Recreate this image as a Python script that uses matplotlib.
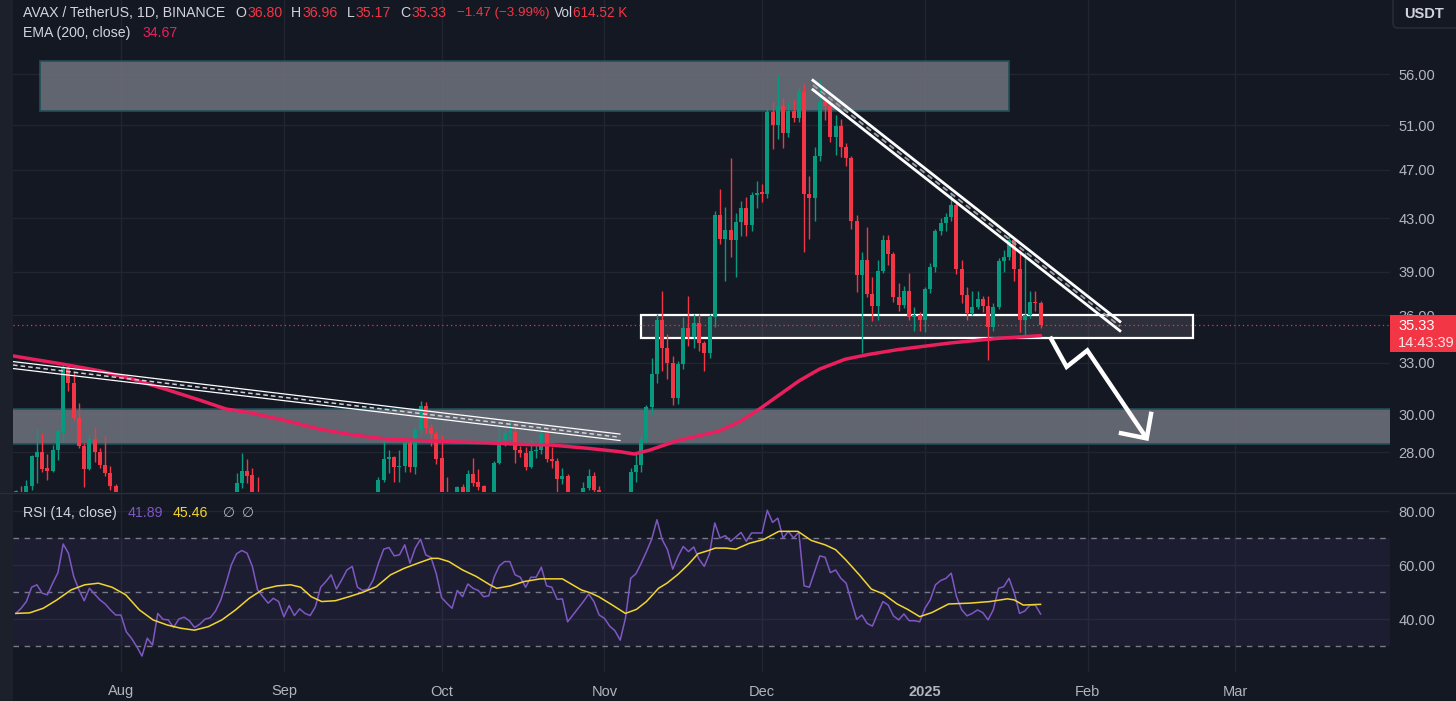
import numpy as np
import pandas as pd
import matplotlib
matplotlib.use('Agg')
import matplotlib.pyplot as plt
from matplotlib.patches import Rectangle, FancyBboxPatch
from matplotlib.lines import Line2D
from matplotlib.ticker import NullLocator
from matplotlib.colors import to_rgba
from matplotlib.transforms import Bbox

plt.rcParams['font.family'] = ['Liberation Sans', 'DejaVu Sans']

############################################################################################
# DATA  (daily candles from 2024-07-12)

start = pd.Timestamp('2024-07-12')

opens = [24.6, 25.9, 25.6, 26.3, 27.75, 28.0, 27.2, 27.05, 28.1, 29.0,
         32.65, 31.8, 29.8, 28.31, 27.15, 28.66, 28.0, 27.34, 26.95, 26.29,
         25.7, 25.5, 23.9, 23.2, 21.8, 19.7, 21.0, 20.3, 22.9, 22.5,
         22.4, 21.6, 22.3, 22.5, 22.2, 21.5, 21.8, 22.3, 22.4, 22.9,
         23.7, 24.8, 25.7, 26.45, 27.05, 26.85, 25.6, 24.2, 23.6, 23.2,
         23.6, 23.4, 22.1, 22.9, 22.2, 22.6, 22.3, 22.1, 22.6, 23.7,
         24.1, 24.5, 23.8, 24.4, 25.1, 25.3, 24.3, 24.1, 24.4, 25.9,
         26.62, 27.65, 27.73, 27.22, 27.3, 28.45, 27.22, 29.14, 30.47, 29.24,
         28.95, 27.7, 25.4, 24.8, 24.5, 26.24, 25.9, 26.87, 26.5, 26.3,
         25.5, 25.6, 27.43, 28.62, 29.02, 29.05, 28.1, 27.96, 27.26, 28.05,
         28.1, 28.93, 27.65, 27.56, 26.64, 26.79, 25.3, 25.6, 25.9, 26.19,
         26.8, 26.11, 25.2, 24.9, 24.2, 23.7, 23.0, 24.6, 26.97, 27.34,
         28.7, 30.41, 32.3, 35.7, 33.9, 33.0, 30.9, 32.9, 35.14, 34.6,
         35.47, 34.18, 33.56, 35.9, 43.25, 41.4, 42.1, 41.3, 42.7, 43.8,
         42.5, 44.9, 45.05, 45.0, 52.3, 51.0, 52.8, 50.25, 52.4, 51.65,
         54.2, 45.0, 44.6, 48.2, 53.2, 52.8, 49.9, 50.9, 49.0, 48.0,
         42.8, 38.75, 39.8, 37.4, 36.6, 39.05, 41.3, 40.3, 37.2, 36.7,
         37.64, 35.9, 36.0, 35.67, 37.74, 39.3, 42.0, 42.6, 43.1, 44.1,
         39.2, 37.37, 36.11, 36.56, 37.1, 36.6, 35.24, 36.56, 39.77, 40.06,
         41.3, 39.2, 35.67, 36.0, 36.86, 36.80]

highs = [26.1, 26.3, 26.6, 27.85, 29.2, 29.0, 27.9, 28.36, 29.2, 32.98,
         32.9, 32.5, 30.62, 28.45, 28.89, 29.33, 28.2, 28.83, 27.29, 26.4,
         25.95, 25.8, 24.3, 23.5, 22.0, 21.5, 21.8, 23.1, 23.1, 22.8,
         23.0, 22.6, 22.7, 22.9, 22.4, 22.1, 22.4, 22.8, 23.1, 24.0,
         25.0, 25.9, 26.95, 27.93, 27.65, 27.2, 26.76, 24.8, 24.4, 23.9,
         23.8, 23.5, 23.1, 23.2, 22.9, 22.8, 22.7, 22.8, 23.9, 24.4,
         24.7, 24.6, 24.6, 25.3, 25.5, 25.4, 24.6, 24.9, 25.95, 26.75,
         28.76, 28.1, 27.8, 28.13, 28.55, 28.6, 29.3, 30.77, 30.7, 29.5,
         29.1, 28.89, 26.77, 25.8, 26.3, 26.4, 27.09, 27.68, 27.12, 26.35,
         25.95, 27.54, 29.33, 29.2, 29.6, 29.6, 28.3, 28.27, 28.62, 28.45,
         29.33, 29.33, 28.27, 27.7, 27.17, 26.9, 25.8, 25.95, 26.5, 27.14,
         27.0, 26.3, 25.6, 25.2, 24.4, 23.9, 24.9, 27.2, 27.9, 28.9,
         30.5, 33.3, 36.1, 37.6, 34.8, 33.4, 33.1, 35.9, 37.26, 36.1,
         36.1, 34.35, 36.1, 43.6, 45.4, 43.9, 48.0, 43.4, 44.4, 44.7,
         45.1, 46.06, 45.8, 52.6, 53.2, 55.9, 53.6, 53.2, 53.4, 54.6,
         55.0, 46.5, 49.0, 55.4, 53.8, 53.3, 52.0, 51.6, 49.4, 48.2,
         43.3, 40.4, 42.3, 38.6, 39.8, 41.7, 41.7, 40.4, 38.2, 38.0,
         38.9, 36.56, 36.2, 37.9, 39.6, 42.2, 43.0, 43.4, 45.0, 44.4,
         39.8, 37.9, 37.64, 37.6, 37.3, 37.26, 36.8, 40.0, 40.6, 41.7,
         41.5, 40.6, 40.4, 37.64, 37.64, 36.96]

lows = [24.3, 25.3, 25.4, 26.1, 26.45, 27.0, 26.6, 27.0, 27.6, 28.5,
        31.34, 29.7, 28.2, 26.26, 27.1, 27.5, 27.2, 26.8, 26.1, 25.3,
        24.9, 23.6, 22.9, 21.6, 17.5, 19.5, 19.9, 20.1, 22.0, 22.2,
        21.5, 21.2, 21.9, 22.0, 21.2, 21.3, 21.7, 22.1, 22.0, 22.7,
        23.5, 24.6, 25.5, 26.2, 26.45, 25.4, 23.8, 23.0, 23.0, 22.8,
        23.2, 21.9, 21.9, 22.0, 21.5, 22.0, 21.0, 21.9, 22.4, 23.4,
        23.7, 23.4, 23.6, 24.1, 24.8, 24.1, 23.6, 23.9, 24.0, 25.7,
        26.5, 26.95, 26.5, 26.5, 27.0, 27.0, 26.9, 29.0, 29.0, 28.3,
        27.4, 25.0, 24.3, 24.0, 24.4, 25.7, 25.8, 26.3, 26.1, 25.2,
        24.6, 25.4, 27.39, 28.3, 28.7, 27.46, 27.75, 27.1, 27.2, 27.7,
        27.9, 27.5, 27.17, 26.03, 26.4, 24.9, 25.0, 25.3, 25.5, 26.1,
        25.9, 24.9, 24.2, 23.9, 22.9, 22.6, 22.9, 24.4, 26.5, 27.0,
        28.5, 30.0, 31.8, 32.5, 32.0, 30.5, 30.6, 32.6, 34.0, 33.9,
        33.7, 32.5, 33.3, 35.2, 41.0, 38.34, 40.06, 38.6, 41.6, 41.6,
        42.0, 43.8, 44.3, 44.6, 48.8, 49.7, 48.9, 49.9, 51.3, 51.3,
        40.4, 41.4, 42.8, 47.8, 51.5, 49.5, 48.3, 48.15, 47.3, 42.2,
        37.55, 33.6, 37.2, 35.6, 35.7, 38.9, 39.5, 36.9, 36.3, 36.5,
        35.67, 34.98, 34.98, 34.9, 37.5, 39.0, 41.7, 42.0, 42.8, 38.8,
        36.8, 35.7, 36.0, 36.4, 36.2, 33.15, 34.98, 36.4, 39.0, 39.8,
        38.34, 34.9, 34.6, 35.8, 36.3, 35.17]

closes = [26.05, 25.6, 26.3, 27.8, 28.0, 27.15, 27.05, 28.1, 29.1, 32.65,
          31.8, 29.8, 28.31, 27.15, 28.66, 28.0, 27.34, 26.95, 26.29, 25.7,
          25.5, 23.9, 23.2, 21.8, 19.7, 21.0, 20.3, 22.9, 22.5, 22.4,
          21.6, 22.3, 22.5, 22.2, 21.5, 21.8, 22.3, 22.4, 22.9, 23.7,
          24.8, 25.7, 26.45, 27.05, 26.8, 25.6, 24.2, 23.6, 23.2, 23.6,
          23.4, 22.1, 22.9, 22.2, 22.6, 22.3, 22.1, 22.6, 23.7, 24.1,
          24.5, 23.8, 24.4, 25.1, 25.3, 24.3, 24.1, 24.4, 25.9, 26.62,
          27.65, 27.73, 27.22, 27.3, 28.45, 27.22, 29.14, 30.47, 29.24, 28.95,
          27.65, 25.4, 24.8, 24.5, 26.24, 25.9, 26.87, 26.46, 26.27, 25.5,
          25.6, 27.43, 28.62, 29.02, 29.05, 28.1, 27.96, 27.26, 28.05, 28.1,
          28.93, 27.65, 27.56, 26.64, 26.79, 25.3, 25.6, 25.9, 26.19, 26.8,
          26.11, 25.2, 24.9, 24.2, 23.7, 23.0, 24.6, 26.97, 27.34, 28.7,
          30.41, 32.3, 35.7, 33.9, 33.0, 30.9, 32.9, 35.14, 34.6, 35.47,
          34.18, 33.56, 35.9, 43.25, 41.4, 42.1, 41.3, 42.7, 43.8, 42.5,
          44.9, 45.05, 45.0, 52.3, 51.0, 52.8, 50.25, 52.4, 51.65, 54.2,
          45.0, 44.6, 48.2, 53.2, 52.8, 49.9, 50.9, 49.0, 48.0, 42.8,
          38.75, 39.8, 37.4, 36.6, 39.05, 41.3, 40.3, 37.2, 36.7, 37.64,
          35.9, 36.0, 35.67, 37.74, 39.3, 42.0, 42.6, 43.1, 44.1, 39.2,
          37.37, 36.11, 36.56, 37.1, 36.6, 35.24, 36.56, 39.77, 40.06, 41.3,
          39.2, 35.67, 36.0, 36.86, 36.80, 35.33]

# RSI(14) one value per candle
rsi_vals = [42.1, 44.0, 46.5, 51.8, 52.7, 49.6, 49.0, 53.3, 57.2, 67.8,
            64.4, 55.8, 50.8, 46.8, 51.4, 49.2, 47.1, 45.6, 43.4, 41.5,
            41.5, 35.3, 32.9, 29.8, 26.3, 32.9, 30.4, 42.1, 39.9, 39.7,
            36.9, 40.0, 40.7, 39.4, 36.9, 38.1, 40.0, 40.5, 43.0, 47.1,
            53.3, 60.1, 64.2, 65.4, 64.4, 59.5, 50.8, 48.3, 45.9, 47.7,
            46.5, 40.9, 45.0, 41.3, 43.8, 42.1, 41.3, 44.6, 51.8, 53.9,
            56.4, 51.1, 54.5, 58.2, 59.5, 51.8, 50.6, 51.1, 54.5, 60.7,
            65.9, 66.5, 63.4, 63.8, 67.5, 60.7, 66.3, 69.6, 63.8, 62.8,
            56.8, 48.0, 45.9, 44.0, 50.6, 48.3, 53.0, 51.4, 50.6, 48.3,
            48.6, 55.5, 59.7, 61.3, 61.3, 56.4, 55.5, 51.8, 55.5, 55.5,
            59.2, 52.3, 51.8, 47.3, 47.5, 39.0, 41.5, 44.0, 46.5, 49.3,
            46.5, 41.5, 40.3, 37.4, 35.7, 32.2, 40.3, 55.1, 56.8, 60.7,
            65.0, 69.6, 76.8, 69.4, 65.7, 58.5, 63.2, 66.9, 65.0, 66.7,
            62.2, 59.5, 64.2, 75.6, 70.0, 70.9, 68.8, 70.4, 72.1, 68.8,
            71.9, 71.9, 71.9, 80.3, 75.8, 77.4, 70.0, 72.5, 70.0, 72.2,
            52.3, 51.8, 57.6, 63.4, 62.9, 57.2, 58.2, 55.1, 53.3, 46.5,
            39.9, 41.5, 38.4, 37.4, 42.1, 46.5, 45.2, 41.2, 39.7, 41.9,
            39.4, 39.4, 39.0, 44.0, 47.1, 52.7, 54.3, 55.1, 57.0, 48.3,
            43.4, 41.2, 42.1, 43.4, 42.4, 39.7, 43.4, 51.4, 52.0, 55.1,
            49.6, 42.1, 43.0, 45.2, 45.2, 41.89]

# RSI-based MA, read at sample days (days after start)
rsi_ma_day = [0, 2.6, 5.2, 7.8, 10.5, 13.1, 15.7, 18.3, 20.9, 23.5, 26.1, 28.8, 31.4,
              34.0, 36.6, 39.2, 41.8, 44.4, 47.1, 49.7, 52.3, 54.2, 56.2, 58.2, 60.8,
              63.4, 66.0, 68.6, 71.3, 73.9, 76.5, 79.1, 80.4, 82.4, 85.0, 87.6, 90.2,
              91.5, 94.1, 96.7, 99.8, 104.0, 107.6, 109.2, 110.9, 113.5, 116.0, 118.1,
              120.0, 122.3, 123.9, 125.9, 127.9, 129.8, 131.8, 133.1, 135.1, 137.0,
              139.6, 142.2, 145.2, 147.5, 148.8, 151.4, 154.0, 156.0, 157.9, 160.5,
              162.8, 165.1, 167.7, 169.7, 172.0, 174.3, 177.5, 181.5, 185.4, 188.7,
              190.0, 191.7, 195]
rsi_ma_val = [42.1, 42.3, 44.0, 47.1, 50.8, 52.7, 53.3, 51.8, 49.0, 43.4, 39.7, 37.8, 36.6,
              35.9, 37.2, 39.7, 43.4, 47.7, 51.1, 52.3, 52.7, 51.8, 48.3, 46.5, 46.8,
              48.3, 49.9, 52.0, 56.4, 58.8, 60.7, 62.5, 62.5, 61.3, 58.2, 55.8, 52.7,
              51.4, 52.3, 53.9, 54.9, 54.9, 50.8, 49.8, 48.3, 45.2, 42.1, 43.6,
              46.5, 51.4, 53.3, 56.4, 60.1, 64.2, 65.4, 66.3, 66.3, 65.9,
              68.1, 69.4, 72.5, 72.5, 72.5, 69.1, 67.5, 65.7, 62.0, 56.4,
              51.1, 49.3, 45.6, 43.6, 40.9, 42.4, 45.6, 45.9, 46.5, 47.5,
              47.1, 45.2, 45.46]

# EMA(200) read at sample days (days after start)
ema_day = [-0.5, 9, 16, 22.3, 28.7, 35, 40, 44.5, 50.8, 57.8, 64, 70.6, 76.8, 83, 89.6,
           95.9, 102, 108.6, 114.9, 117.7, 120.6, 126, 133.9, 137.7, 141.5, 145.3, 149,
           152.9, 157.8, 162.4, 168, 177.6, 187, 195]
ema_val = [33.4, 32.9, 32.5, 32.0, 31.4, 30.8, 30.3, 30.1, 29.7, 29.2, 28.9, 28.67, 28.6,
           28.53, 28.48, 28.4, 28.36, 28.2, 28.02, 27.9, 28.1, 28.6, 29.1, 29.6, 30.3,
           31.1, 31.9, 32.6, 33.2, 33.5, 33.8, 34.2, 34.5, 34.67]

month_starts = ['2024-08-01', '2024-09-01', '2024-10-01', '2024-11-01',
                '2024-12-01', '2025-01-01', '2025-02-01', '2025-03-01']
month_labels = ['Aug', 'Sep', 'Oct', 'Nov', 'Dec', '2025', 'Feb', 'Mar']
price_ticks = [28, 30, 33, 36, 39, 43, 47, 51, 56]
rsi_ticks = [40, 60, 80]

############################################################################################
# STYLE

BG = '#141823'
GRID = '#212530'
UP = '#089981'
DOWN = '#F23645'
TXT = '#B2B5BE'
LBL = '#D1D4DC'
EMA_C = '#EC1F5E'
RSI_C = '#7E57C2'
MA_C = '#F2D531'

W, H = 1456, 701

def box(x0, y0, x1, y1):
    return [x0 / W, 1 - y1 / H, (x1 - x0) / W, (y1 - y0) / H]

def put(xp, yp, s, color, size=10, **kw):
    return fig.text(xp / W, 1 - yp / H, s, color=color, fontsize=size, va='center',
                    ha='left', zorder=7, **kw)

def day(s):
    return (pd.Timestamp(s) - start).days

fig = plt.figure(figsize=(W / 100, H / 100), dpi=100, facecolor=BG)
fig.patches.append(Rectangle((0, 0), 13 / W, 1, transform=fig.transFigure,
                             facecolor='#1c202b', edgecolor='none', zorder=0))

ax = fig.add_axes(box(13, 0, 1390, 492), facecolor=BG)
axr = fig.add_axes(box(13, 493, 1390, 672), facecolor=BG, sharex=ax)

x = np.array([(d - start).days for d in pd.date_range(start, periods=len(closes))])
xlim = (-0.55, 261.5)
month_x = [day(m) for m in month_starts]

############################################################################################
# PRICE PANEL

o, h, l, c = map(np.array, (opens, highs, lows, closes))
col = np.where(c >= o, UP, DOWN)
ax.vlines(x, l, h, colors=col, linewidth=1, zorder=3)
body_lo = np.minimum(o, c)
body_h = np.maximum(np.abs(c - o), body_lo * 0.002)
ax.bar(x, body_h, bottom=body_lo, width=0.76, color=col, linewidth=0, zorder=3.1)

ax.plot(ema_day, ema_val, color=EMA_C, linewidth=2.5, zorder=3.5, solid_capstyle='round')

# zones
zone_face = to_rgba('#787B86', 0.78)
ax.add_patch(Rectangle((4.6, 52.33), 189.0 - 4.6, 57.39 - 52.33, facecolor=zone_face,
                       edgecolor='#22505a', linewidth=1.2, zorder=1.5))
ax.add_patch(Rectangle((-2, 28.41), 266, 30.3 - 28.41, facecolor=zone_face,
                       edgecolor='#22505a', linewidth=1.2, zorder=1.5))
ax.add_patch(Rectangle((118.95, 34.52), 224.0 - 118.95, 36.0 - 34.52,
                       facecolor=to_rgba('#787B86', 0.25), edgecolor='white',
                       linewidth=1.6, zorder=2))

# descending channels
def channel(x0, x1, top, bot, lw, mid_color, mid_lw):
    ax.plot([x0, x1], [top[0], top[1]], color='white', linewidth=lw, zorder=4)
    ax.plot([x0, x1], [bot[0], bot[1]], color='white', linewidth=lw, zorder=4)
    mid = [np.sqrt(top[0] * bot[0]), np.sqrt(top[1] * bot[1])]
    ax.plot([x0, x1], mid, color=mid_color, linewidth=mid_lw, linestyle=(0, (3, 2)), zorder=4)

channel(-0.55, 114.96, (33.06, 28.94), (32.64, 28.60), 0.9, '#d0d2d8', 1.1)
channel(151.68, 210.1, (55.40, 35.58), (54.45, 34.98), 2.0, '#9a9da6', 1.4)

# zigzag arrow
ax.plot([196.8, 199.96, 203.9, 215.2], [34.6, 32.74, 33.74, 28.71], color='white',
        linewidth=3.2, zorder=5, solid_joinstyle='miter', solid_capstyle='butt')
ax.plot([209.9, 215.2, 216.1], [29.01, 28.71, 30.15], color='white',
        linewidth=3.2, zorder=5, solid_joinstyle='miter', solid_capstyle='butt')

ax.axhline(closes[-1], color=DOWN, linewidth=0.9, linestyle=(0, (1, 2.5)), zorder=2.5)

ax.set_yscale('log')
ax.set_ylim(26.02, 64.2)
ax.set_xlim(*xlim)
ax.set_yticks(price_ticks, [f'{v:.2f}' for v in price_ticks])
ax.yaxis.set_minor_locator(NullLocator())
ax.yaxis.tick_right()
ax.tick_params(axis='y', length=0, pad=6, labelcolor=TXT, labelsize=10.5)
ax.set_xticks(month_x)
ax.tick_params(axis='x', length=0, labelbottom=False)
ax.grid(True, color=GRID, linewidth=1)
ax.set_axisbelow(True)
for s in ax.spines.values():
    s.set_visible(False)

# the 36.00 label sits half hidden behind the last price tag
lab36 = ax.get_yticklabels()[price_ticks.index(36)]
lab36.set_clip_box(Bbox.from_extents(1390, H - 315, W, H))
lab36.set_clip_on(True)

############################################################################################
# RSI PANEL

axr.axhspan(30, 70, color=RSI_C, alpha=0.09, linewidth=0, zorder=0.6)
for v in (70, 50, 30):
    axr.axhline(v, color='#787B86', linewidth=1, linestyle=(0, (4, 4)), zorder=1)
axr.plot(x, rsi_vals, color=RSI_C, linewidth=1.1, zorder=3)
axr.plot(rsi_ma_day, rsi_ma_val, color=MA_C, linewidth=1.1, zorder=3)

axr.set_ylim(20.4, 86.7)
axr.set_xlim(*xlim)
axr.set_yticks(rsi_ticks, [f'{v:.2f}' for v in rsi_ticks])
axr.yaxis.tick_right()
axr.tick_params(axis='y', length=0, pad=6, labelcolor=TXT, labelsize=10.5)
axr.set_xticks(month_x, month_labels)
axr.tick_params(axis='x', length=0, pad=9, labelcolor=TXT, labelsize=10.5)
axr.get_xticklabels()[5].set_fontweight('bold')
axr.grid(True, color=GRID, linewidth=1)
axr.set_axisbelow(True)
for s in axr.spines.values():
    s.set_visible(False)

fig.add_artist(Line2D([0, 1], [1 - 492.5 / H] * 2, transform=fig.transFigure,
                      color='#2a2e39', linewidth=1))

############################################################################################
# TEXTS

put(23, 13, 'AVAX / TetherUS, 1D, BINANCE', LBL, size=10.2)
for xp, s, cl in [(235, 'O', LBL), (248, '36.80', DOWN), (291, 'H', LBL), (303, '36.96', DOWN),
                  (347, 'L', LBL), (356, '35.17', DOWN), (400, 'C', LBL), (412, '35.33', DOWN)]:
    put(xp, 13, s, cl, size=10.2)
put(457, 13, '\u22121.47 (\u22123.99%)', DOWN, size=9.6)
put(554, 13, 'Vol', LBL, size=9.8)
put(573, 13, '614.52 K', DOWN, size=9.8)
put(23, 33, 'EMA (200, close)', LBL, size=10.2)
put(143, 33, '34.67', EMA_C, size=10.2)

put(23, 513, 'RSI (14, close)', LBL, size=10.2)
put(128, 513, '41.89', RSI_C, size=10.2)
put(173, 513, '45.46', MA_C, size=10.2)
put(223, 513, '\u2205', TXT, size=10)
put(242, 513, '\u2205', TXT, size=10)

# USDT box
fig.patches.append(FancyBboxPatch((13.93, 6.73), 0.7, 0.35, boxstyle='round,pad=0,rounding_size=0.05',
                                  transform=fig.dpi_scale_trans, facecolor=BG,
                                  edgecolor='#2a2e39', linewidth=1, zorder=5))
put(1404, 14, 'USDT', LBL, size=10.5, fontweight='bold')

# last price tag
fig.patches.append(Rectangle((13.90, 3.49), 0.7, 0.37, transform=fig.dpi_scale_trans,
                             facecolor=DOWN, edgecolor='none', zorder=5))
put(1398, 326, '35.33', 'white', size=10.5)
put(1398, 343, '14:43:39', '#fde3e6', size=10.5)

fig.savefig('out.png', dpi=100, facecolor=BG)
